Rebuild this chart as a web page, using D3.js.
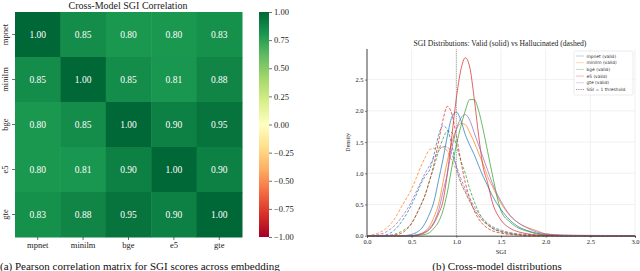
<!DOCTYPE html>
<html><head><meta charset="utf-8">
<script src="https://cdn.jsdelivr.net/npm/d3@7"></script>
<style>body{margin:0;background:#fff}svg{display:block}</style>
</head><body>
<svg id="c" width="640" height="271"></svg>
<script>
// ---------- data ----------
const models = ["mpnet", "minilm", "bge", "e5", "gte"];
const corrRows = [
  [1.00, 0.85, 0.80, 0.80, 0.83],
  [0.85, 1.00, 0.85, 0.81, 0.88],
  [0.80, 0.85, 1.00, 0.90, 0.95],
  [0.80, 0.81, 0.90, 1.00, 0.90],
  [0.83, 0.88, 0.95, 0.90, 1.00]
];
const cbarTicks = [1.00, 0.75, 0.50, 0.25, 0.00, -0.25, -0.50, -0.75, -1.00];
const rdylgn = ["#a50026","#d73027","#f46d43","#fdae61","#fee08b","#ffffbf","#d9ef8b","#a6d96a","#66bd63","#1a9850","#006837"];

const sgiX = [0, 0.1, 0.2, 0.3, 0.4, 0.5, 0.55, 0.6, 0.65, 0.7, 0.75, 0.8, 0.85, 0.9, 0.95, 1.0, 1.05, 1.1, 1.15, 1.2, 1.25, 1.3, 1.35, 1.4, 1.5, 1.6, 1.7, 1.8, 1.9, 2.0, 2.2, 2.5, 3.0];
// valid (solid)
const mpnetValid  = [0,0,0,0,0,0.02,0.05,0.1,0.2,0.35,0.55,0.88,1.22,1.6,1.9,1.98,1.85,1.62,1.45,1.3,1.12,0.95,0.8,0.65,0.42,0.25,0.14,0.08,0.04,0.02,0.005,0,0];
const minilmValid = [0,0,0,0,0,0,0.01,0.03,0.07,0.15,0.3,0.5,0.85,1.2,1.5,1.7,1.8,1.78,1.65,1.5,1.32,1.15,0.95,0.8,0.52,0.32,0.2,0.13,0.08,0.03,0.005,0,0];
const bgeValid    = [0,0,0,0,0,0,0,0.01,0.02,0.05,0.12,0.22,0.4,0.7,1.1,1.45,1.75,2.0,2.18,2.18,2.0,1.7,1.35,1.0,0.4,0.22,0.12,0.07,0.03,0.01,0,0,0];
const e5Valid     = [0,0,0,0,0,0,0.01,0.02,0.05,0.1,0.2,0.35,0.55,1.0,1.6,2.2,2.65,2.85,2.7,2.2,1.6,1.1,0.85,0.55,0.25,0.12,0.06,0.03,0.01,0.005,0,0,0];
const gteValid    = [0,0,0,0,0,0,0.01,0.03,0.06,0.12,0.22,0.4,0.7,1.0,1.4,1.7,1.88,1.94,1.85,1.65,1.45,1.25,1.05,0.85,0.55,0.33,0.2,0.12,0.06,0.03,0.01,0.005,0];
// hallucinated (dashed)
const mpnetHall  = [0,0,0.01,0.08,0.25,0.5,0.65,0.82,0.95,1.05,1.3,1.6,1.76,1.7,1.45,1.1,0.85,0.7,0.55,0.42,0.32,0.24,0.18,0.13,0.07,0.04,0.02,0.01,0,0,0,0,0];
const minilmHall = [0,0.03,0.1,0.25,0.5,0.75,0.92,1.1,1.25,1.38,1.4,1.4,1.42,1.35,1.2,1.05,0.85,0.7,0.55,0.42,0.32,0.23,0.17,0.12,0.07,0.04,0.02,0.01,0,0,0,0,0];
const bgeHall    = [0,0,0,0.02,0.08,0.2,0.33,0.48,0.65,0.88,1.1,1.35,1.55,1.68,1.65,1.45,1.2,1.0,0.75,0.55,0.38,0.26,0.18,0.12,0.06,0.03,0.01,0,0,0,0,0,0];
const e5Hall     = [0,0,0,0.01,0.05,0.2,0.33,0.48,0.65,0.88,1.15,1.5,1.85,2.07,1.95,1.6,1.2,0.85,0.6,0.4,0.27,0.18,0.12,0.08,0.04,0.02,0.01,0,0,0,0,0,0];
const gteHall    = [0,0.01,0.05,0.15,0.32,0.55,0.7,0.85,1.0,1.12,1.25,1.35,1.43,1.42,1.3,1.12,0.92,0.75,0.6,0.47,0.36,0.27,0.2,0.15,0.09,0.05,0.03,0.02,0.01,0,0,0,0];
const seriesColors = ["#1f77b4", "#ff7f0e", "#2ca02c", "#d62728", "#9467bd"];
const validSeries = [mpnetValid, minilmValid, bgeValid, e5Valid, gteValid];
const hallSeries  = [mpnetHall, minilmHall, bgeHall, e5Hall, gteHall];
const xTicks = [0, 0.5, 1.0, 1.5, 2.0, 2.5, 3.0];
const yTicks = [0, 0.5, 1.0, 1.5, 2.0, 2.5];
const threshold = 1.0;

// ---------- drawing ----------
const svg = d3.select("#c");
const serif = "'Liberation Serif', 'DejaVu Serif', serif";

// ===== Left: heatmap =====
const hx = d3.scaleBand().domain(models).range([15, 242]);
const hy = d3.scaleBand().domain(models).range([12, 237]);
const cmap = d3.scaleLinear().domain(d3.range(11).map(i => -1 + i * 0.2)).range(rdylgn).clamp(true);

const cells = [];
corrRows.forEach((row, i) => row.forEach((v, j) => cells.push({r: models[i], c: models[j], v})));
const hg = svg.append("g");
hg.selectAll("rect").data(cells).join("rect")
  .attr("x", d => hx(d.c)).attr("y", d => hy(d.r))
  .attr("width", hx.bandwidth() + 0.5).attr("height", hy.bandwidth() + 0.5)
  .attr("fill", d => cmap(d.v));
hg.selectAll("text.cell").data(cells).join("text").attr("class", "cell")
  .attr("x", d => hx(d.c) + hx.bandwidth() / 2).attr("y", d => hy(d.r) + hy.bandwidth() / 2)
  .attr("text-anchor", "middle").attr("dominant-baseline", "central")
  .attr("fill", "#fff").style("font-family", serif).style("font-size", "9.5px")
  .text(d => d.v.toFixed(2));

const xAxisH = svg.append("g").attr("transform", "translate(0,237)")
  .call(d3.axisBottom(hx).tickSize(3).tickPadding(2));
xAxisH.select(".domain").remove();
xAxisH.selectAll("text").style("font-family", serif).style("font-size", "8.5px").attr("fill", "#222");
xAxisH.selectAll("line").attr("stroke", "#333").attr("stroke-width", 0.7);

const yAxisH = svg.append("g").attr("transform", "translate(15,0)")
  .call(d3.axisLeft(hy).tickSize(3).tickPadding(2));
yAxisH.select(".domain").remove();
yAxisH.selectAll("line").attr("stroke", "#333").attr("stroke-width", 0.7);
yAxisH.selectAll(".tick text")
  .attr("text-anchor", "middle").attr("dy", 0)
  .attr("transform", "rotate(-90)").attr("x", 0).attr("y", -7)
  .style("font-family", serif).style("font-size", "8.5px").attr("fill", "#222");

svg.append("text").attr("x", 128).attr("y", 8.5).attr("text-anchor", "middle")
  .style("font-family", serif).style("font-size", "10px").attr("fill", "#222")
  .text("Cross-Model SGI Correlation");

// colorbar
const defs = svg.append("defs");
const grad = defs.append("linearGradient").attr("id", "cb").attr("x1", 0).attr("y1", 1).attr("x2", 0).attr("y2", 0);
rdylgn.forEach((c, i) => grad.append("stop").attr("offset", i / 10).attr("stop-color", c));
const cby = d3.scaleLinear().domain([-1, 1]).range([237, 12]);
svg.append("rect").attr("x", 259).attr("y", 12).attr("width", 10).attr("height", 225).attr("fill", "url(#cb)");
const cbAxis = svg.append("g").attr("transform", "translate(269,0)")
  .call(d3.axisRight(cby).tickValues(cbarTicks).tickSize(3).tickPadding(2)
    .tickFormat(d => d3.format(".2f")(d).replace("-", "\u2212")));
cbAxis.select(".domain").remove();
cbAxis.selectAll("line").attr("stroke", "#333").attr("stroke-width", 0.7);
cbAxis.selectAll("text").style("font-family", serif).style("font-size", "8.5px").attr("fill", "#222");

// caption a
svg.append("text").attr("x", 0).attr("y", 269.5)
  .style("font-family", serif).style("font-size", "11px").attr("fill", "#111")
  .text("(a) Pearson correlation matrix for SGI scores across embedding");

// ===== Right: distributions =====
const x = d3.scaleLinear().domain([0, 3]).range([367, 635]);
const y = d3.scaleLinear().domain([0, 2.99]).range([235.7, 49]);

// grid
const grid = svg.append("g");
grid.selectAll("line.gx").data(xTicks).join("line").attr("class", "gx")
  .attr("x1", d => x(d)).attr("x2", d => x(d)).attr("y1", y(0)).attr("y2", y(2.99))
  .attr("stroke", "#ebebeb").attr("stroke-width", 0.7);
grid.selectAll("line.gy").data(yTicks).join("line").attr("class", "gy")
  .attr("x1", x(0)).attr("x2", x(3)).attr("y1", d => y(d)).attr("y2", d => y(d))
  .attr("stroke", "#ebebeb").attr("stroke-width", 0.7);

// curves
const line = d3.line().x(d => x(d[0])).y(d => y(d[1])).curve(d3.curveMonotoneX);
const curves = svg.append("g").attr("fill", "none");
hallSeries.forEach((s, i) => {
  curves.append("path").datum(sgiX.map((v, k) => [v, s[k]]))
    .attr("d", line).attr("stroke", seriesColors[i]).attr("stroke-width", 0.9)
    .attr("stroke-opacity", 0.8).attr("stroke-dasharray", "3,1.6");
});
validSeries.forEach((s, i) => {
  curves.append("path").datum(sgiX.map((v, k) => [v, s[k]]))
    .attr("d", line).attr("stroke", seriesColors[i]).attr("stroke-width", 0.9)
    .attr("stroke-opacity", 0.8);
});

// threshold
svg.append("line").attr("x1", x(threshold)).attr("x2", x(threshold))
  .attr("y1", y(0)).attr("y2", y(2.99))
  .attr("stroke", "#777").attr("stroke-width", 0.8).attr("stroke-dasharray", "0.8,1");

// axes
const xa = svg.append("g").attr("transform", `translate(0,${y(0)})`)
  .call(d3.axisBottom(x).tickValues(xTicks).tickSize(2).tickPadding(1.5).tickFormat(d3.format(".1f")));
xa.select(".domain").attr("stroke", "#333").attr("stroke-width", 0.9);
xa.selectAll("line").attr("stroke", "#333").attr("stroke-width", 0.6);
xa.selectAll("text").style("font-family", serif).style("font-size", "6.5px").attr("fill", "#222");
const ya = svg.append("g").attr("transform", `translate(${x(0)},0)`)
  .call(d3.axisLeft(y).tickValues(yTicks).tickSize(2).tickPadding(1.5).tickFormat(d3.format(".1f")));
ya.select(".domain").attr("stroke", "#333").attr("stroke-width", 0.9).attr("d", `M0,${y(2.99)}V${y(0)}`);
ya.selectAll("line").attr("stroke", "#333").attr("stroke-width", 0.6);
ya.selectAll("text").style("font-family", serif).style("font-size", "6.5px").attr("fill", "#222");

svg.append("text").attr("x", 500).attr("y", 46).attr("text-anchor", "middle")
  .style("font-family", serif).style("font-size", "7.6px").attr("fill", "#222")
  .text("SGI Distributions: Valid (solid) vs Hallucinated (dashed)");
svg.append("text").attr("x", 501).attr("y", 254).attr("text-anchor", "middle")
  .style("font-family", serif).style("font-size", "6.5px").attr("fill", "#222").text("SGI");
svg.append("text").attr("transform", `translate(350,${(y(0) + y(2.99)) / 2}) rotate(-90)`)
  .attr("text-anchor", "middle")
  .style("font-family", serif).style("font-size", "6px").attr("fill", "#222").text("Density");

// legend
const legendItems = models.map((m, i) => ({label: m + " (valid)", color: seriesColors[i], dash: null}))
  .concat([{label: "SGI = 1 threshold", color: "#777", dash: "0.8,1"}]);
const lg = svg.append("g").attr("transform", "translate(574,51)");
lg.append("rect").attr("width", 59).attr("height", 44).attr("rx", 1.5)
  .attr("fill", "#fff").attr("fill-opacity", 0.85).attr("stroke", "#ddd").attr("stroke-width", 0.6);
legendItems.forEach((d, i) => {
  const yy = 5 + i * 6.7;
  lg.append("line").attr("x1", 2).attr("x2", 10).attr("y1", yy).attr("y2", yy)
    .attr("stroke", d.color).attr("stroke-width", 0.9).attr("stroke-opacity", d.dash ? 1 : 0.35)
    .attr("stroke-dasharray", d.dash);
  lg.append("text").attr("x", 12.5).attr("y", yy).attr("dominant-baseline", "central")
    .style("font-family", "'DejaVu Sans', sans-serif").style("font-size", "4.4px").attr("fill", "#333")
    .text(d.label);
});

// caption b
svg.append("text").attr("x", 497).attr("y", 269.5).attr("text-anchor", "middle")
  .style("font-family", serif).style("font-size", "11px").attr("fill", "#111")
  .text("(b) Cross-model distributions");
</script>
</body></html>
